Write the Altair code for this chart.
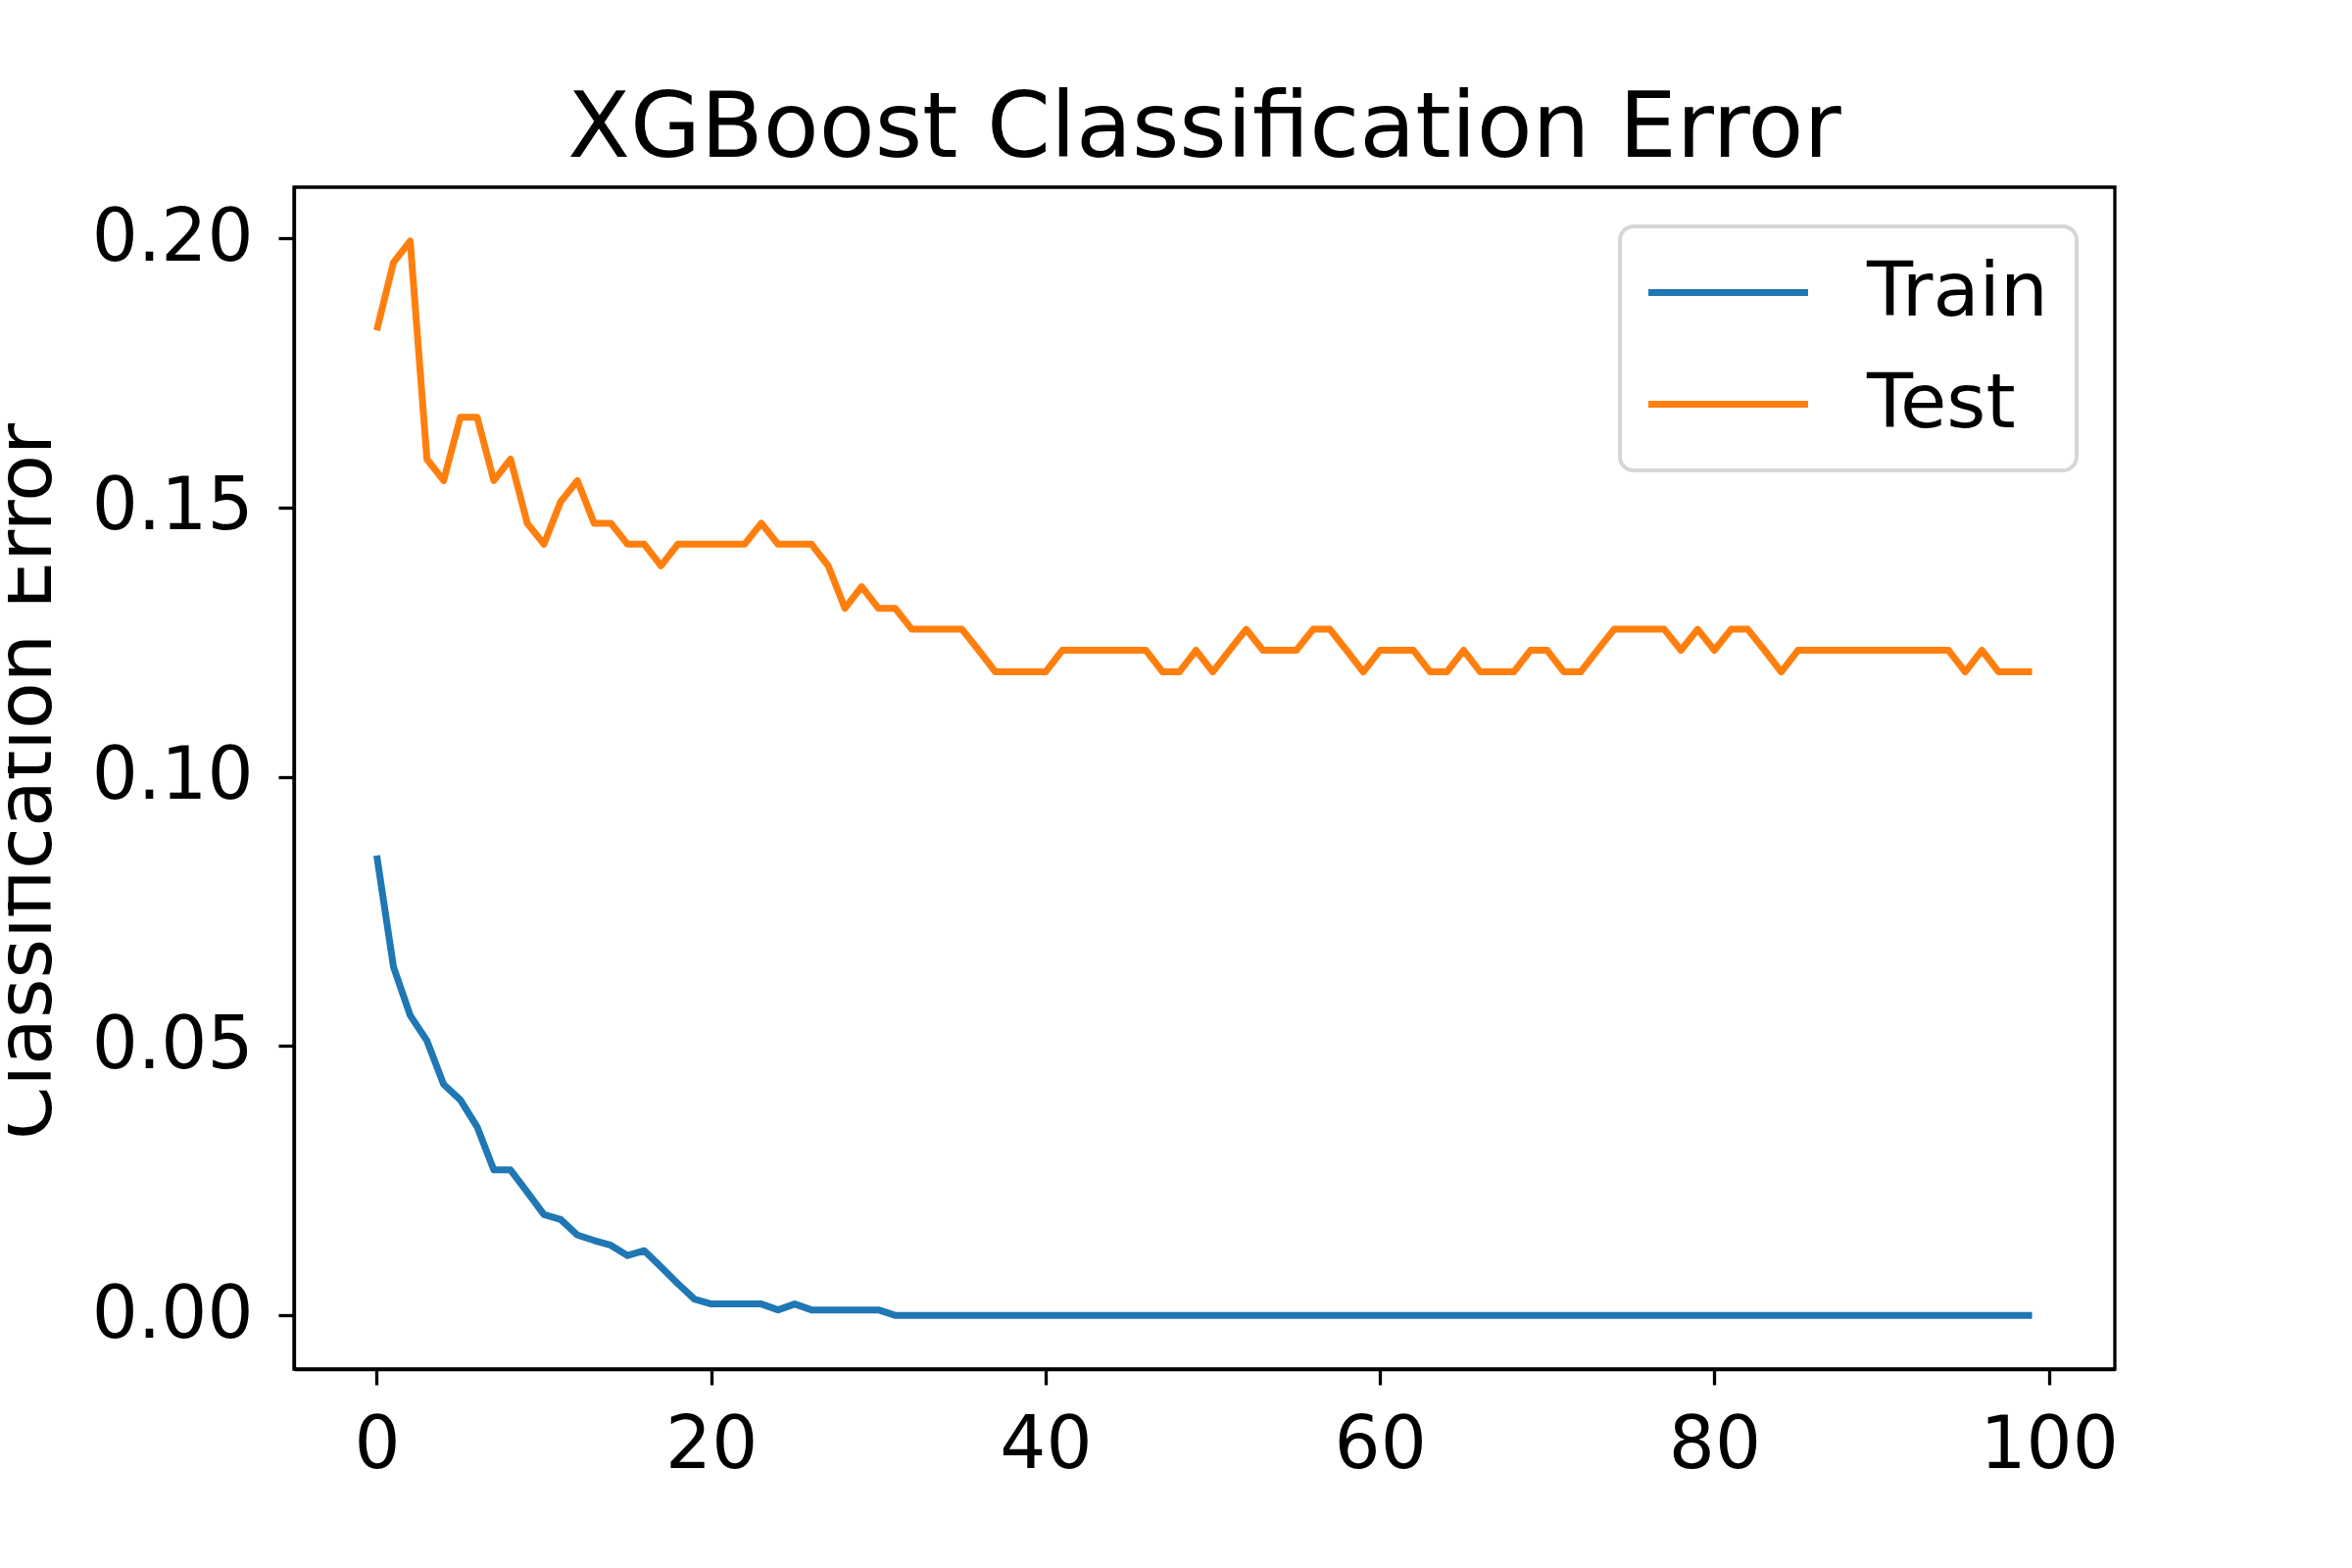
import altair as alt
import pandas as pd

iterations = list(range(100))

train_error = [
    0.0854, 0.0647, 0.0557, 0.0510, 0.0429, 0.0400, 0.0350, 0.0270, 0.0270, 0.0229,
    0.0187, 0.0178, 0.0149, 0.0139, 0.0130, 0.0111, 0.0120, 0.0090, 0.0059, 0.0030,
    0.0021, 0.0021, 0.0021, 0.0021, 0.0010, 0.0021, 0.0010, 0.0010, 0.0010, 0.0010,
    0.0010, 0.0, 0.0, 0.0, 0.0, 0.0, 0.0, 0.0, 0.0, 0.0,
    0.0, 0.0, 0.0, 0.0, 0.0, 0.0, 0.0, 0.0, 0.0, 0.0,
    0.0, 0.0, 0.0, 0.0, 0.0, 0.0, 0.0, 0.0, 0.0, 0.0,
    0.0, 0.0, 0.0, 0.0, 0.0, 0.0, 0.0, 0.0, 0.0, 0.0,
    0.0, 0.0, 0.0, 0.0, 0.0, 0.0, 0.0, 0.0, 0.0, 0.0,
    0.0, 0.0, 0.0, 0.0, 0.0, 0.0, 0.0, 0.0, 0.0, 0.0,
    0.0, 0.0, 0.0, 0.0, 0.0, 0.0, 0.0, 0.0, 0.0, 0.0,
]

test_error = [
    0.1829, 0.1955, 0.1995, 0.1590, 0.1550, 0.1668, 0.1668, 0.1550, 0.1590, 0.1471,
    0.1432, 0.1511, 0.1550, 0.1471, 0.1471, 0.1432, 0.1432, 0.1392, 0.1432, 0.1432,
    0.1432, 0.1432, 0.1432, 0.1471, 0.1432, 0.1432, 0.1432, 0.1392, 0.1313, 0.1353,
    0.1313, 0.1313, 0.1274, 0.1274, 0.1274, 0.1274, 0.1235, 0.1195, 0.1195, 0.1195,
    0.1195, 0.1235, 0.1235, 0.1235, 0.1235, 0.1235, 0.1235, 0.1195, 0.1195, 0.1235,
    0.1195, 0.1235, 0.1274, 0.1235, 0.1235, 0.1235, 0.1274, 0.1274, 0.1235, 0.1195,
    0.1235, 0.1235, 0.1235, 0.1195, 0.1195, 0.1235, 0.1195, 0.1195, 0.1195, 0.1235,
    0.1235, 0.1195, 0.1195, 0.1235, 0.1274, 0.1274, 0.1274, 0.1274, 0.1235, 0.1274,
    0.1235, 0.1274, 0.1274, 0.1235, 0.1195, 0.1235, 0.1235, 0.1235, 0.1235, 0.1235,
    0.1235, 0.1235, 0.1235, 0.1235, 0.1235, 0.1195, 0.1235, 0.1195, 0.1195, 0.1195,
]

series_names = ["Train", "Test"]
series_colors = ["#1f77b4", "#ff7f0e"]
x_ticks = [0, 20, 40, 60, 80, 100]
y_ticks = [0.0, 0.05, 0.10, 0.15, 0.20]

df = pd.concat([
    pd.DataFrame({"iteration": iterations, "error": train_error, "series": "Train"}),
    pd.DataFrame({"iteration": iterations, "error": test_error, "series": "Test"}),
])

FONT = "DejaVu Sans"
TICK_FS = 74

chart = alt.Chart(df).mark_line(strokeWidth=7, strokeCap="butt", strokeJoin="round").encode(
    x=alt.X(
        "iteration:Q",
        scale=alt.Scale(domain=[-4.95, 103.95], nice=False, zero=False),
        axis=alt.Axis(
            values=x_ticks, format="d", title=None, grid=False,
            labelFontSize=TICK_FS, labelFont=FONT, labelColor="black",
            labelPadding=26, labelBaseline="top",
            tickSize=16, tickWidth=3.3, tickColor="black",
            domainColor="black", domainWidth=3.3, labelFlush=False,
        ),
    ),
    y=alt.Y(
        "error:Q",
        scale=alt.Scale(domain=[-0.00998, 0.2095], nice=False, zero=False),
        axis=alt.Axis(
            values=y_ticks, format=".2f", title="Classification Error", grid=False,
            labelFontSize=TICK_FS, labelFont=FONT, labelColor="black",
            labelPadding=26, labelFlush=False,
            tickSize=16, tickWidth=3.3, tickColor="black",
            domainColor="black", domainWidth=3.3,
            titleFont=FONT, titleFontSize=78, titleFontWeight="normal", titleColor="black",
            titleAngle=270, titleAlign="center", titleBaseline="alphabetic",
            titleX=-249, titleY=606,
        ),
    ),
    color=alt.Color(
        "series:N",
        scale=alt.Scale(domain=series_names, range=series_colors),
        sort=series_names,
        legend=alt.Legend(
            title=None, orient="none", legendX=1353, legendY=40,
            symbolType="M-4,0L4,0", symbolSize=1660, symbolStrokeWidth=7,
            symbolOffset=43,
            labelFont=FONT, labelFontSize=77, labelColor="black", labelLimit=0,
            labelOffset=103, rowPadding=36, padding=29,
            strokeColor="#d6d6d6", fillColor="white", cornerRadius=14,
        ),
    ),
).properties(
    width=1858,
    height=1206,
    title=alt.TitleParams(
        "XGBoost Classification Error", font=FONT, fontSize=93, fontWeight="normal",
        color="black", anchor="middle", baseline="alphabetic", offset=30, dy=92,
    ),
    autosize=alt.AutoSizeParams(type="none"),
    padding={"left": 292, "top": 183, "right": 220, "bottom": 160},
).configure_view(
    stroke="black", strokeWidth=3.3,
).configure_legend(
    strokeWidth=4,
)

chart.save("out.html", embed_options={"renderer": "svg", "actions": False})
